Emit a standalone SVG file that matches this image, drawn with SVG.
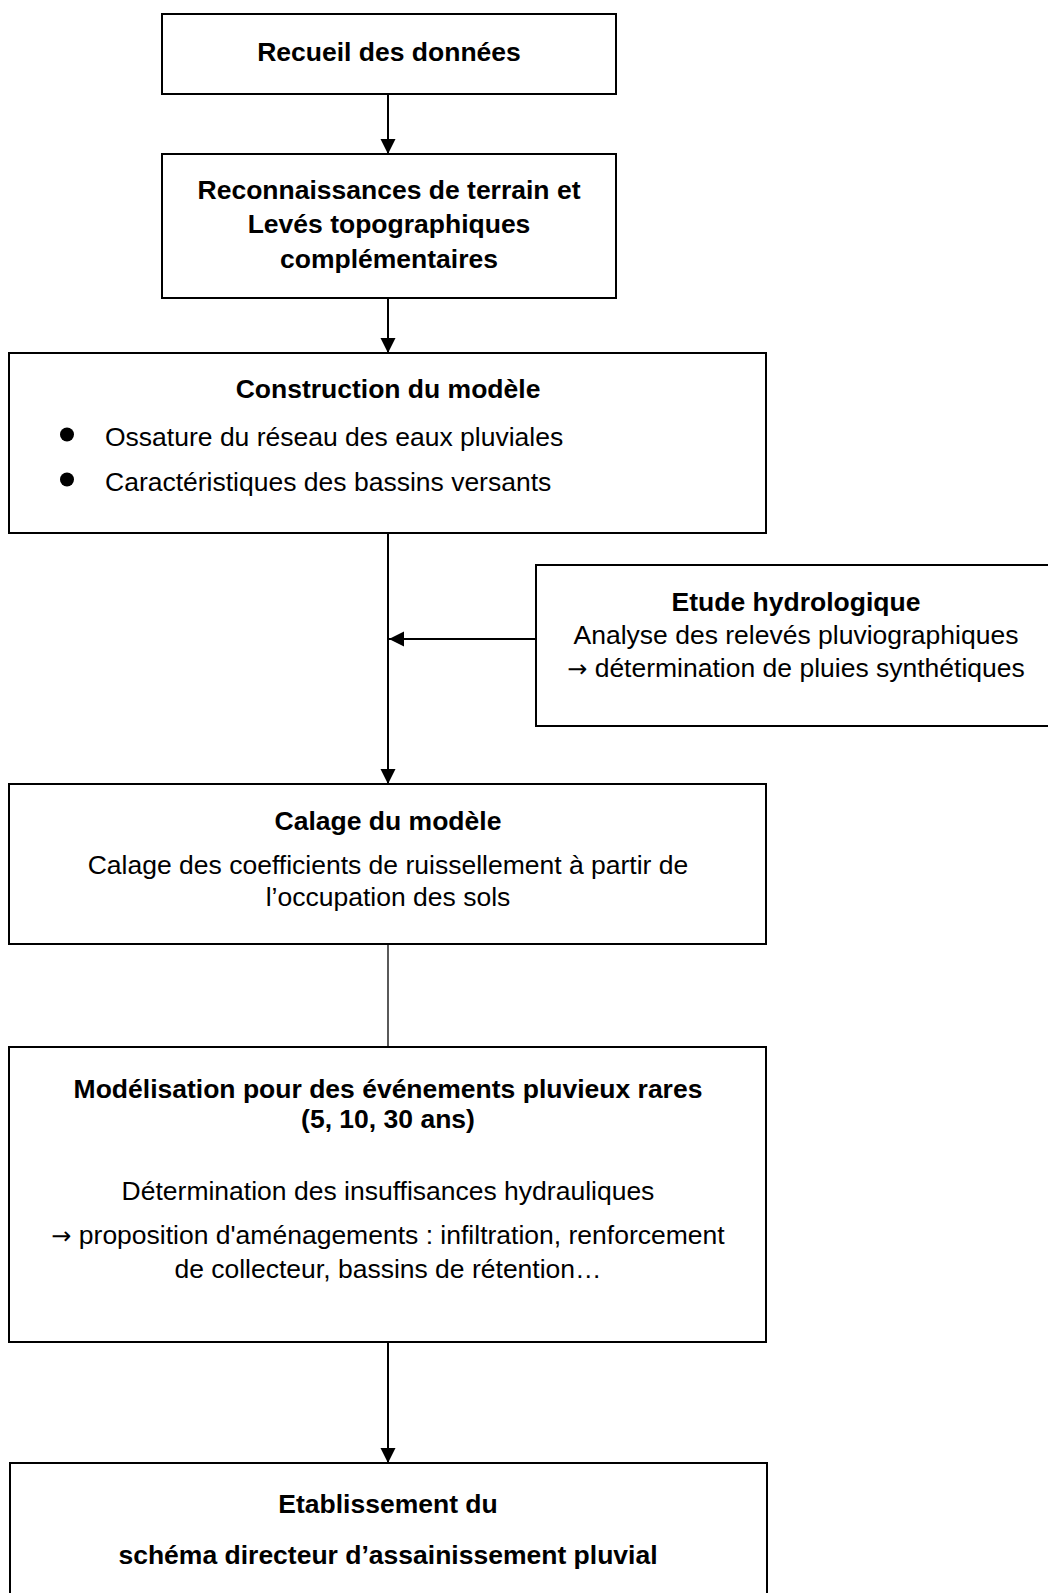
<svg xmlns="http://www.w3.org/2000/svg" width="1048" height="1593" viewBox="0 0 1048 1593">
<style>
.box{fill:#fff;stroke:#000;stroke-width:2}
.t{font-family:"Liberation Sans",Arial,sans-serif;font-size:26.5px;fill:#000;text-anchor:middle}
.b{font-weight:bold}
.l{text-anchor:start}
.ar{font-family:"DejaVu Sans",sans-serif;font-size:24px}
.c{fill:none;stroke:#000;stroke-width:2}
.thin{stroke-width:1.3}
</style>
<defs>
<marker id="ah" markerUnits="userSpaceOnUse" markerWidth="15" markerHeight="16" refX="15" refY="8" orient="auto">
<path d="M0,0.5 L15,8 L0,15.5 z" fill="#000"/>
</marker>
</defs>
<rect width="1048" height="1593" fill="#fff"/>
<g id="connectors">
<line class="c" x1="388" y1="94" x2="388" y2="154" marker-end="url(#ah)"/>
<line class="c" x1="388" y1="298" x2="388" y2="353" marker-end="url(#ah)"/>
<line class="c" x1="388" y1="533" x2="388" y2="784" marker-end="url(#ah)"/>
<line class="c" x1="536" y1="639" x2="389" y2="639" marker-end="url(#ah)"/>
<line class="c thin" x1="388" y1="944" x2="388" y2="1047"/>
<line class="c" x1="388" y1="1342" x2="388" y2="1463" marker-end="url(#ah)"/>
</g>
<g id="recueil">
<rect class="box" x="162" y="14" width="454" height="80"/>
<text class="t b" x="389" y="61">Recueil des données</text>
</g>
<g id="reconnaissances">
<rect class="box" x="162" y="154" width="454" height="144"/>
<text class="t b" x="389" y="199">Reconnaissances de terrain et</text>
<text class="t b" x="389" y="233">Levés topographiques</text>
<text class="t b" x="389" y="268">complémentaires</text>
</g>
<g id="construction">
<rect class="box" x="9" y="353" width="757" height="180"/>
<text class="t b" x="388" y="398">Construction du modèle</text>
<circle cx="67" cy="434.5" r="7" fill="#000"/>
<text class="t l" x="105" y="446">Ossature du réseau des eaux pluviales</text>
<circle cx="67" cy="479.5" r="7" fill="#000"/>
<text class="t l" x="105" y="491">Caractéristiques des bassins versants</text>
</g>
<g id="etude">
<rect class="box" x="536" y="565" width="530" height="161"/>
<text class="t b" x="796" y="611">Etude hydrologique</text>
<text class="t" x="796" y="644">Analyse des relevés pluviographiques</text>
<text class="t" x="796" y="677"><tspan class="ar">→</tspan> détermination de pluies synthétiques</text>
</g>
<g id="calage">
<rect class="box" x="9" y="784" width="757" height="160"/>
<text class="t b" x="388" y="830">Calage du modèle</text>
<text class="t" x="388" y="874">Calage des coefficients de ruissellement à partir de</text>
<text class="t" x="388" y="906">l’occupation des sols</text>
</g>
<g id="modelisation">
<rect class="box" x="9" y="1047" width="757" height="295"/>
<text class="t b" x="388" y="1098">Modélisation pour des événements pluvieux rares</text>
<text class="t b" x="388" y="1128">(5, 10, 30 ans)</text>
<text class="t" x="388" y="1200">Détermination des insuffisances hydrauliques</text>
<text class="t" x="388" y="1244"><tspan class="ar">→</tspan> proposition d'aménagements : infiltration, renforcement</text>
<text class="t" x="388" y="1278">de collecteur, bassins de rétention…</text>
</g>
<g id="etablissement">
<rect class="box" x="10" y="1463" width="757" height="200"/>
<text class="t b" x="388" y="1513">Etablissement du</text>
<text class="t b" x="388" y="1564">schéma directeur d’assainissement pluvial</text>
</g>
</svg>
